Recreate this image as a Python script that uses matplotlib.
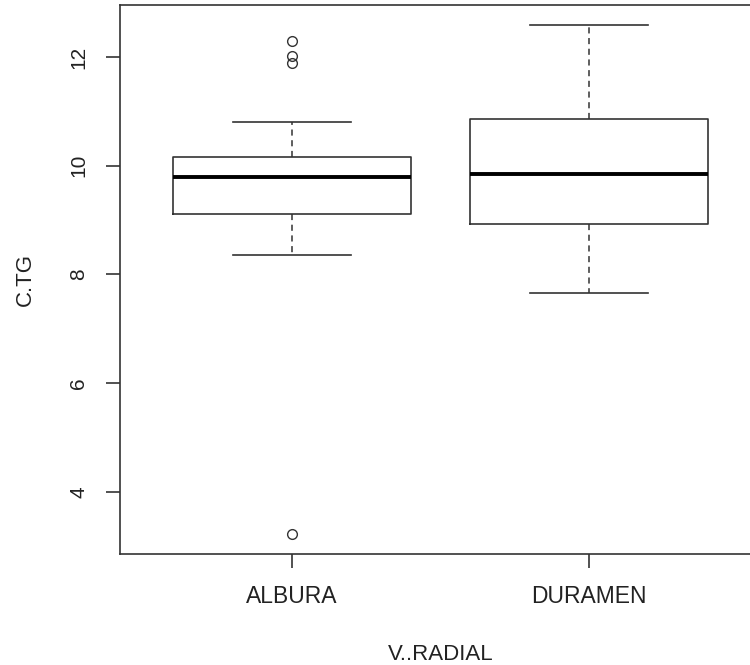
import numpy as np
import matplotlib.pyplot as plt

plt.rcParams['font.family'] = ['Liberation Sans', 'DejaVu Sans']

# boxplot summary
groups = ["ALBURA", "DURAMEN"]
lower_whisker = [8.36, 7.665]
q1 = [9.12, 8.934]
median = [9.79, 9.843]
q3 = [10.16, 10.865]
upper_whisker = [10.81, 12.59]
outliers = [[12.30, 12.02, 11.89, 3.23], []]

stats = []
for i in range(len(groups)):
    stats.append({"label": groups[i], "whislo": lower_whisker[i], "q1": q1[i],
                  "med": median[i], "q3": q3[i], "whishi": upper_whisker[i],
                  "fliers": outliers[i]})

dark = "#333333"
fig = plt.figure(figsize=(7.5, 6.65), dpi=100)
# plot region runs past the right edge, as in the reference crop
ax = fig.add_axes([120 / 750, 111 / 665, 641 / 750, 549 / 665])

ax.bxp(stats, positions=[1, 2], widths=0.8,
       boxprops=dict(color=dark, linewidth=1.2),
       medianprops=dict(color="black", linewidth=2.8),
       whiskerprops=dict(color=dark, linewidth=1.1, linestyle=(0, (4, 3))),
       capprops=dict(color=dark, linewidth=1.2),
       capwidths=0.4,
       flierprops=dict(marker="o", markerfacecolor="none", markeredgecolor=dark,
                       markersize=7, markeredgewidth=1.0))

ax.set_xlim(0.42, 2.58)
ax.set_ylim(2.86, 12.956)
ax.set_yticks([4, 6, 8, 10, 12])
ax.set_xticks([1, 2])
ax.set_xticklabels(groups)

for s in ax.spines.values():
    s.set_color(dark)
    s.set_linewidth(1.2)

ax.tick_params(axis="both", direction="out", length=10, width=1.2, color=dark,
               labelcolor="#222222")
ax.tick_params(axis="x", pad=12, labelsize=16.5)
ax.tick_params(axis="y", pad=13, labelsize=15)
for lab in ax.get_yticklabels():
    lab.set_rotation(90)
    lab.set_va("center")

ax.set_ylabel("C.TG", fontsize=16, color="#222222", labelpad=24)
ax.set_xlabel("V..RADIAL", fontsize=16, color="#222222", labelpad=26)

fig.savefig("out.png", dpi=100)
